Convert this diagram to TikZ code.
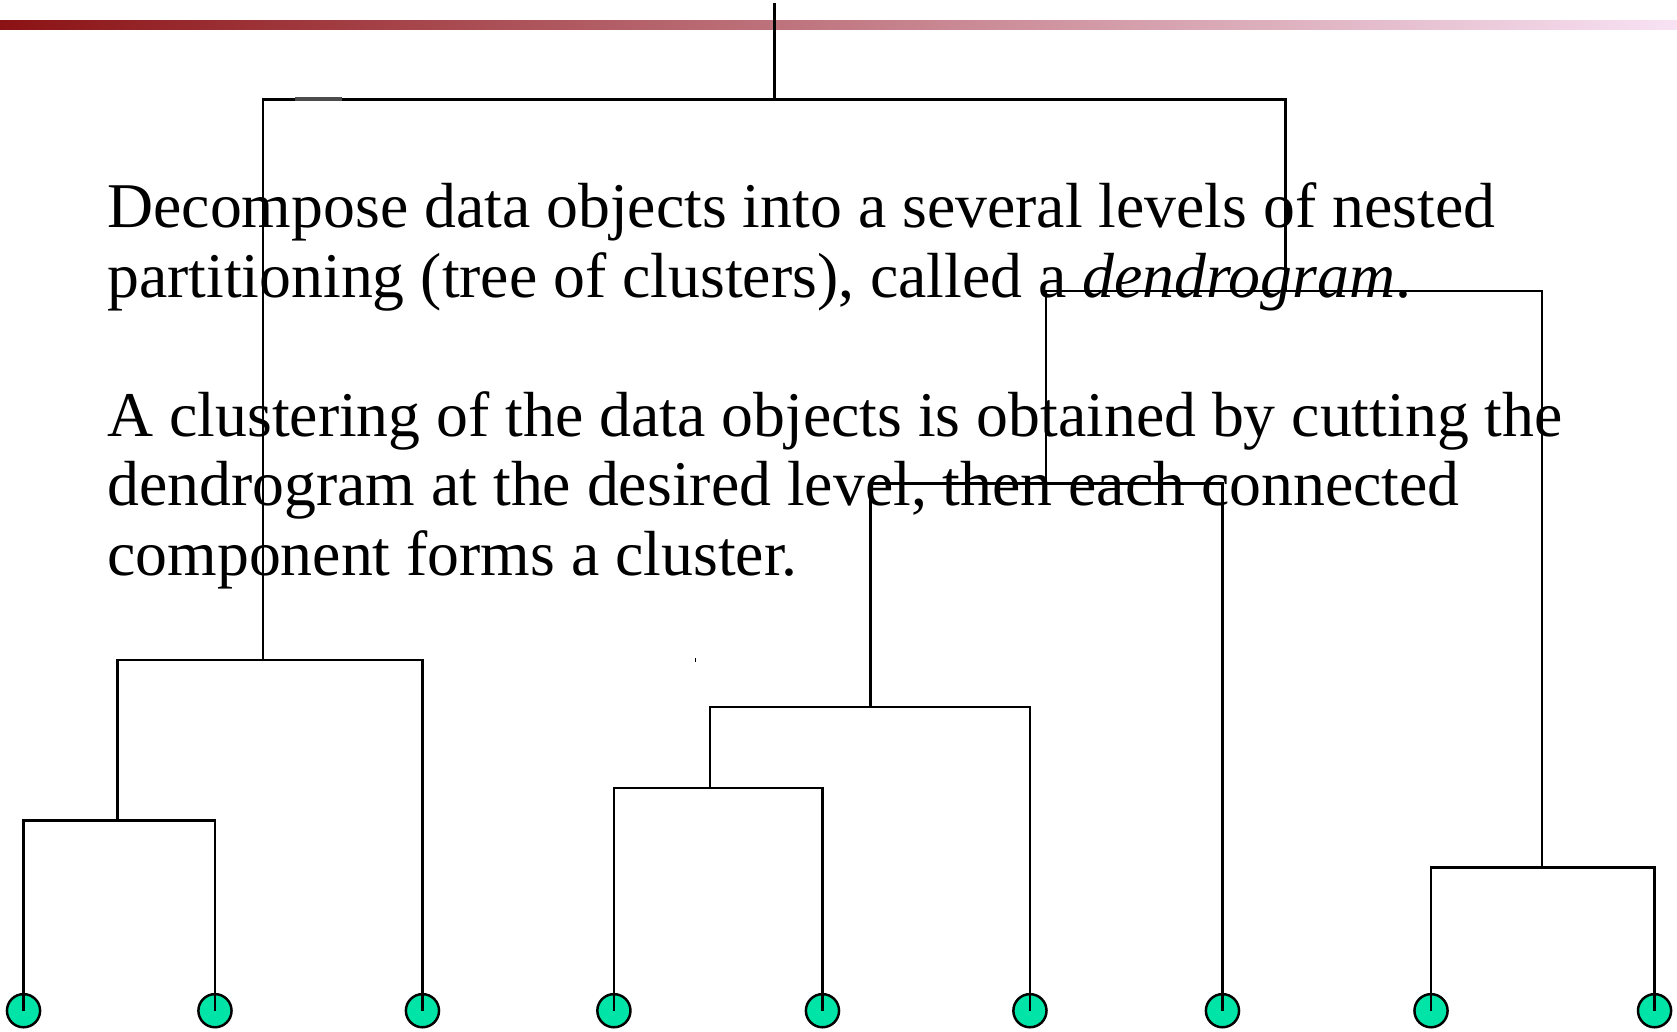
\documentclass[tikz,border=0pt]{standalone}
\usepackage{fontspec}
\setmainfont{Liberation Serif}
\definecolor{barleft}{RGB}{139,18,20}
\definecolor{barmid}{RGB}{200,160,180}
\definecolor{barright}{RGB}{248,226,244}
\definecolor{leafgreen}{RGB}{0,228,168}
\tikzset{
  link/.style={draw=black, line width=1.15pt},
  leaf/.style={circle, draw=black, line width=1.15pt, fill=leafgreen,
    minimum size=15.5pt, inner sep=0pt},
  body/.style={anchor=base west, inner sep=0pt,
    font=\fontsize{29.8}{33}\selectfont}
}
\begin{document}
\begin{tikzpicture}[x=0.5pt, y=-0.5pt]
  % canvas
  \useasboundingbox (0,0) rectangle (1568,964);
  % title bar
  \shade[left color=barleft, middle color=barmid, right color=barright]
    (0,19) rectangle (1568,27.5);

  % merge points of the tree
  \coordinate (top)   at (724,3);
  \coordinate (n1)    at (724,93);
  \coordinate (nL)    at (246,617);
  \coordinate (nLL)   at (110,767);
  \coordinate (nR)    at (1202,272);
  \coordinate (nRA)   at (978,452);
  \coordinate (nRAA)  at (814,661);
  \coordinate (nRAAA) at (664,737);
  \coordinate (nRB)   at (1442,811);

  % data objects
  \node[leaf] (leaf1) at (22,945) {};
  \node[leaf] (leaf2) at (201,945) {};
  \node[leaf] (leaf3) at (395,945) {};
  \node[leaf] (leaf4) at (574,945) {};
  \node[leaf] (leaf5) at (769,945) {};
  \node[leaf] (leaf6) at (963,945) {};
  \node[leaf] (leaf7) at (1143,945) {};
  \node[leaf] (leaf8) at (1338,945) {};
  \node[leaf] (leaf9) at (1547,945) {};

  % dendrogram links
  \draw[link] (top) -- (n1);
  \draw[link] (n1) -| (nL);
  \draw[link] (n1) -| (nR);
  \draw[link] (nL) -| (nLL);
  \draw[link] (nL) -| (leaf3.center);
  \draw[link] (nLL) -| (leaf1.center);
  \draw[link] (nLL) -| (leaf2.center);
  \draw[link] (nR) -| (nRA);
  \draw[link] (nR) -| (nRB);
  \draw[link] (nRA) -| (nRAA);
  \draw[link] (nRA) -| (leaf7.center);
  \draw[link] (nRAA) -| (nRAAA);
  \draw[link] (nRAA) -| (leaf6.center);
  \draw[link] (nRAAA) -| (leaf4.center);
  \draw[link] (nRAAA) -| (leaf5.center);
  \draw[link] (nRB) -| (leaf8.center);
  \draw[link] (nRB) -| (leaf9.center);

  % small stray marks
  \draw[black!70, line width=1.5pt] (276,92.5) -- (320,92.5);
  \fill[black] (650,615.5) rectangle (651,618.5);

  % text
  \node[body] (line1) at (100,213) {Decompose data objects into a several levels of nested};
  \node[body] (line2) at (100,278) {partitioning (tree of clusters), called a \textit{dendrogram}.};
  \node[body] (line3) at (100,408) {A clustering of the data objects is obtained by cutting the};
  \node[body] (line4) at (100,473) {dendrogram at the desired level, then each connected};
  \node[body] (line5) at (100,538) {component forms a cluster.};
\end{tikzpicture}
\end{document}
